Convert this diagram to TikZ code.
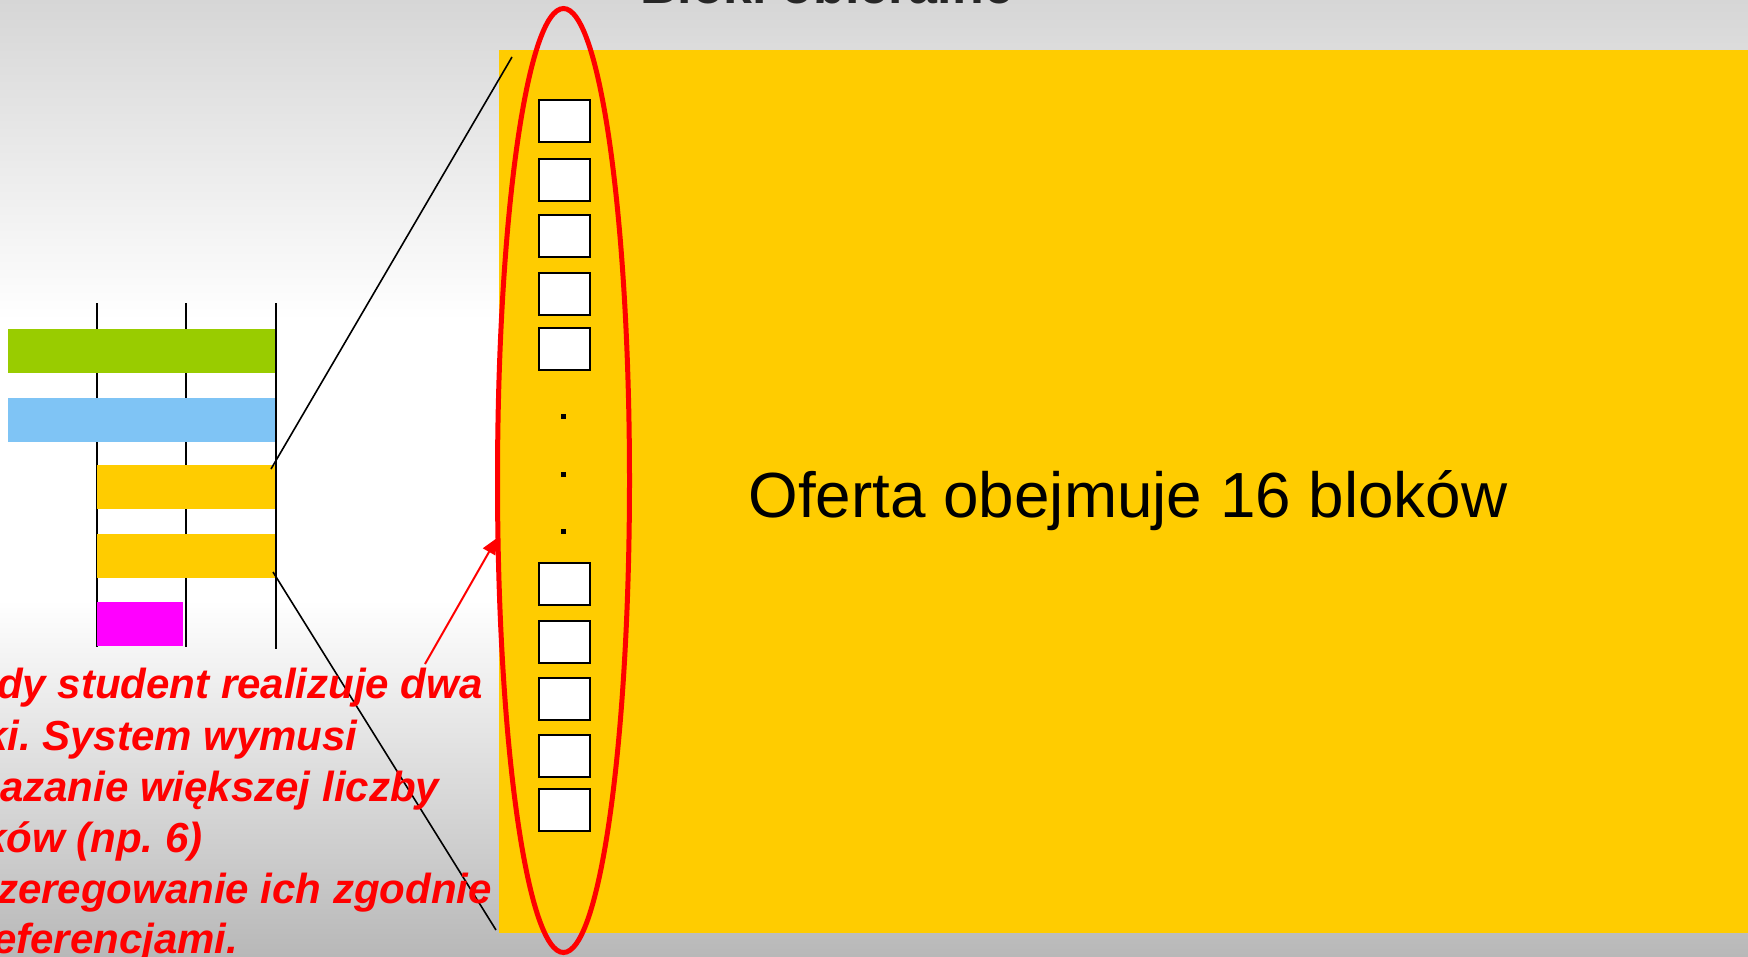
\documentclass[tikz,border=0pt]{standalone}
\usepackage{fontspec}
\setmainfont{Liberation Sans}
\usetikzlibrary{shapes.geometric,arrows.meta}
\definecolor{bgtop}{RGB}{214,214,214}
\definecolor{bgbot}{RGB}{184,184,184}
\definecolor{yel}{RGB}{255,204,0}
\definecolor{grn}{RGB}{153,204,0}
\definecolor{blu}{RGB}{127,196,245}
\definecolor{mag}{RGB}{255,0,255}
\frenchspacing
\begin{document}
\begin{tikzpicture}[x=1pt,y=-1pt,
  sq/.style={draw=black,line width=2pt,fill=white,minimum width=51pt,minimum height=42pt,inner sep=0pt},
  dotnode/.style={fill=black,minimum size=5pt,inner sep=0pt},
  bar/.style={inner sep=0pt,anchor=north west},
  redtxt/.style={anchor=base west,inner sep=0pt,text=red,font=\fontsize{42}{50}\selectfont\bfseries\itshape},
  grid/.style={line width=2pt,black},
  zoomline/.style={line width=1.6pt,black}]
\useasboundingbox (0,0) rectangle (1748,956);
\clip (0,0) rectangle (1748,956);
% background
\fill[top color=bgtop,bottom color=white] (0,0) rectangle (1748,320);
\fill[white] (0,319) rectangle (1748,601);
\fill[top color=white,bottom color=bgbot] (0,600) rectangle (1748,956);
% title (cut off at top)
\node[anchor=base west,inner sep=0pt,text=black!85,font=\fontsize{52}{60}\selectfont\bfseries] (title) at (640,3) {Bloki obieralne};
% yellow panel
\node[fill=yel,inner sep=0pt,minimum width=1249pt,minimum height=883pt] (panel) at (1123.5,491.5) {};
% grid lines
\coordinate (g1t) at (96.5,303); \coordinate (g1b) at (96.5,647);
\coordinate (g2t) at (186,303); \coordinate (g2b) at (186,647);
\coordinate (g3t) at (276,303); \coordinate (g3b) at (276,649);
\draw[grid] (g1t) -- (g1b);
\draw[grid] (g2t) -- (g2b);
\draw[grid] (g3t) -- (g3b);
% bars
\node[bar,fill=grn,minimum width=267pt,minimum height=44pt] (green) at (8,329) {};
\node[bar,fill=blu,minimum width=267pt,minimum height=44pt] (blue) at (8,398) {};
\node[bar,fill=yel,minimum width=178pt,minimum height=44pt] (ybar1) at (97,465) {};
\node[bar,fill=yel,minimum width=178pt,minimum height=44pt] (ybar2) at (97,534) {};
\node[bar,fill=mag,minimum width=86pt,minimum height=44pt] (magbar) at (97,602) {};
% zoom lines
\coordinate (z1a) at (271,469); \coordinate (z1b) at (512,57);
\coordinate (z2a) at (273,572); \coordinate (z2b) at (496,930);
\draw[zoomline] (z1a) -- (z1b);
\draw[zoomline] (z2a) -- (z2b);
% selection ellipse
\node[ellipse,draw=red,line width=5pt,minimum width=132pt,minimum height=944pt,inner sep=0pt] (sel) at (563.5,480.5) {};
% squares
\node[sq] (s1) at (564.5,121) {};
\node[sq] (s2) at (564.5,179.5) {};
\node[sq] (s3) at (564.5,236) {};
\node[sq] (s4) at (564.5,294) {};
\node[sq] (s5) at (564.5,349) {};
\node[dotnode] (d1) at (563.5,416) {};
\node[dotnode] (d2) at (563.5,474) {};
\node[dotnode] (d3) at (563.5,531) {};
\node[sq] (s6) at (564.5,583.5) {};
\node[sq] (s7) at (564.5,641.5) {};
\node[sq] (s8) at (564.5,698.5) {};
\node[sq] (s9) at (564.5,756) {};
\node[sq] (s10) at (564.5,810) {};
% main text
\node[anchor=base,inner sep=0pt,font=\fontsize{63.8}{75}\selectfont] (offer) at (1128,517) {Oferta obejmuje 16 bloków};
% red text
\node[redtxt] (t1) at (-3,698) {dy student realizuje dwa};
\node[redtxt] (t2) at (-16,750) {ki. System wymusi};
\node[redtxt] (t3) at (0,801) {azanie większej liczby};
\node[redtxt] (t4) at (-17,852) {ków (np. 6)};
\node[redtxt] (t5) at (-3,903) {zeregowanie ich zgodnie};
\node[redtxt] (t6) at (-7,953) {eferencjami.};
% red arrow
\coordinate (arst) at (425,664);
\coordinate (artip) at (497,538);
\draw[red,line width=2pt,-{Triangle[length=16pt,width=14pt]}] (arst) -- (artip);
\end{tikzpicture}
\end{document}
